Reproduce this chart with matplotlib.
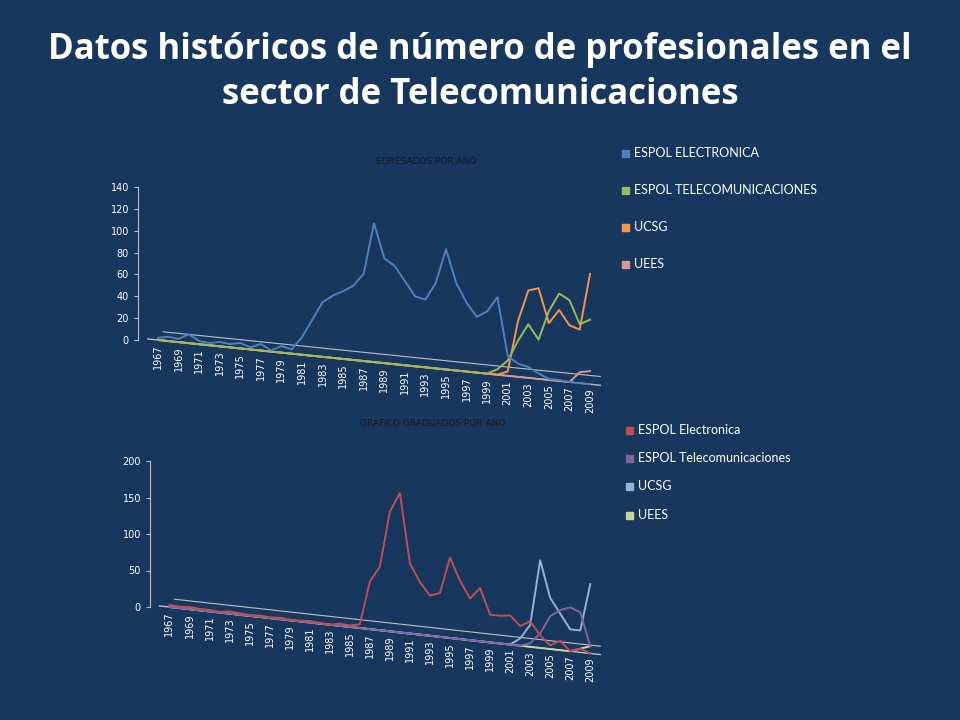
import matplotlib
matplotlib.use("Agg")
import matplotlib.pyplot as plt
from matplotlib.transforms import Affine2D
import numpy as np

years = list(range(1967, 2010))
tick_years = list(range(1967, 2010, 2))

# Top chart: EGRESADOS POR AÑO
top_names = ["ESPOL ELECTRONICA", "ESPOL TELECOMUNICACIONES", "UCSG", "UEES"]
espol_elec = [2, 4, 3, 8, 3, 2, 4, 3, 5, 2, 6, 1, 6, 4, 16, 33, 50, 57, 62, 68, 80, 127, 96,
              90, 77, 64, 62, 78, 110, 80, 63, 51, 57, 71, 18, 12, 10, 5, 1, 1, 0, 0, 0]
espol_tel = [0]*33 + [5, 14, 33, 49, 36, 63, 80, 75, 54, 59]
ucsg_top = [0]*33 + [0, 4, 51, 80, 83, 52, 65, 52, 49, 101]
uees_top = [0]*41 + [10, 12]
top_series = [espol_elec, espol_tel, ucsg_top, uees_top]
top_colors = ["#4F81BD", "#9BBB59", "#F79646", "#D99694"]

# Bottom chart: GRAFICO GRADUADOS POR AÑO
bot_names = ["ESPOL Electronica", "ESPOL Telecomunicaciones", "UCSG", "UEES"]
espol_e2 = [3, 2, 3, 2, 2, 1, 3, 2, 1, 2, 1, 2, 1, 1, 2, 1, 0, 3, 2, 5, 65, 87, 164, 191, 96,
            72, 55, 60, 110, 80, 57, 73, 38, 38, 40, 27, 35, 17, 5, 13, 0, 5, 0]
espol_t2 = [0]*36 + [5, 20, 45, 55, 60, 55, 10]
ucsg_bot = [0]*35 + [10, 30, 120, 70, 50, 30, 30, 95]
uees_bot = [0]*41 + [5, 10]
bot_series = [espol_e2, espol_t2, ucsg_bot, uees_bot]
bot_colors = ["#C0504D", "#8064A2", "#95B3D7", "#C3D69B"]

BG = "#17375E"
fig = plt.figure(figsize=(9.6, 7.2), dpi=100, facecolor=BG)
W, H = 960, 720

fig.text(0.5, 1 - 50/H, "Datos históricos de número de profesionales en el",
         ha="center", va="center", color="white", fontsize=25, fontweight="bold", family="Open Sans")
fig.text(0.5, 1 - 95/H, "sector de Telecomunicaciones",
         ha="center", va="center", color="white", fontsize=25, fontweight="bold", family="Open Sans")


def make_chart(left, top, bottom, right, ymax, ystep, series, colors, names, title, title_y,
               slope_deg, leg_x, leg_ys):
    ax = fig.add_axes([left/W, 1 - bottom/H, (right-left)/W, (bottom-top)/H])
    ax.set_facecolor("none")
    ax.set_xlim(1965.06, 2009.97)
    ax.set_ylim(0, ymax)
    for s in ["top", "right", "bottom"]:
        ax.spines[s].set_visible(False)
    ax.spines["left"].set_color("#BFBFBF")
    ax.set_yticks(np.arange(0, ymax + 1, ystep))
    ax.tick_params(axis="y", colors="white", labelsize=7, length=3)
    ax.tick_params(axis="y", color="#BFBFBF")
    ax.set_xticks([])
    fig.canvas.draw()
    x0, y0 = ax.transData.transform((1967, 0))
    sk = Affine2D().translate(-x0, -y0).skew_deg(0, -slope_deg).translate(x0, y0)
    tr = ax.transData + sk
    ax.plot([1966, 2010], [0, 0], color="#BFBFBF", lw=1, transform=tr, clip_on=False)
    ax.plot([1967.5, 2010], [8*ymax/140, 8*ymax/140], color="#BFBFBF", lw=0.8,
            transform=tr, clip_on=False)
    for i, (vals, c) in enumerate(zip(series, colors)):
        ax.plot(years, vals, color=c, lw=1.4, transform=tr, clip_on=False,
                zorder=5 - i)
    for yv in tick_years:
        ax.text(yv, -4*ymax/140, str(yv), rotation=90, ha="center", va="top",
                fontsize=7, color="white", transform=tr, clip_on=False)
    fig.text((left + right)/2/W + 0.06, 1 - title_y/H, title, ha="center", va="center",
             fontsize=6.5, color="#1A1A1A")
    for n, c, ly in zip(names, colors, leg_ys):
        fig.patches.append(plt.Rectangle(((leg_x)/W, 1 - (ly + 4)/H), 7/W, 7/H,
                                         color=c, transform=fig.transFigure, figure=fig))
        fig.text((leg_x + 12)/W, 1 - ly/H, n, ha="left", va="center", fontsize=9,
                 color="white", family="Lato")
    return ax


make_chart(138, 187, 340, 600, 140, 20, top_series, top_colors, top_names,
           "EGRESADOS POR AÑO", 162, 5.84, 622, [153, 190, 227, 264])
make_chart(150, 461, 607, 600, 200, 50, bot_series, bot_colors, bot_names,
           "GRAFICO GRADUADOS POR AÑO", 423, 6.3, 626, [430, 458, 486, 515])

fig.savefig("out.png", dpi=100, facecolor=BG)
